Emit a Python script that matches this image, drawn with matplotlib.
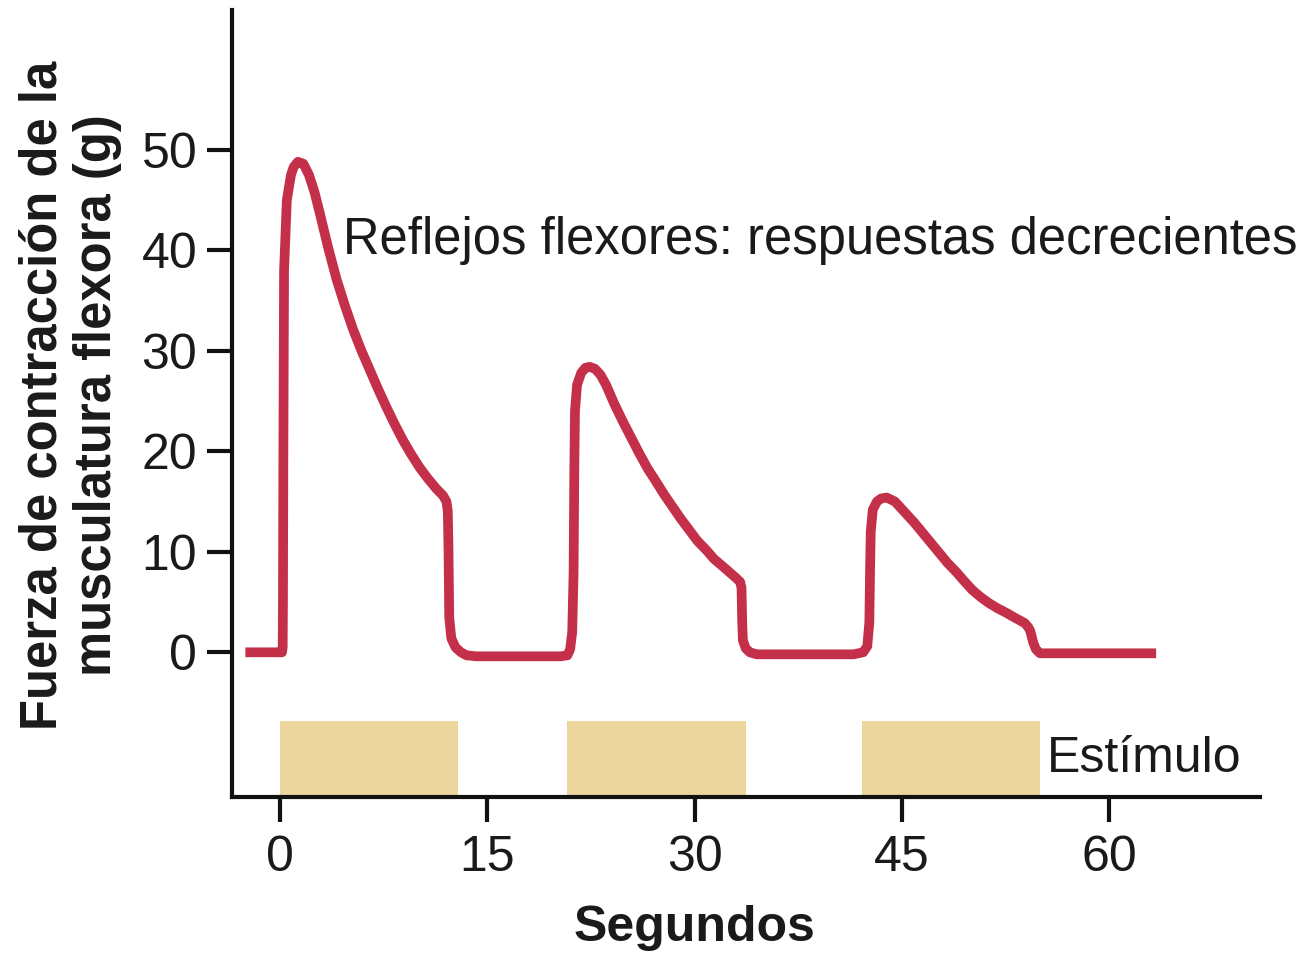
import matplotlib
matplotlib.use("Agg")
import matplotlib.pyplot as plt
from matplotlib.patches import Rectangle

# --- data ---
time_s = [-2.5, 0.15, 0.2, 0.22, 0.25, 0.3, 0.5, 0.8, 1.0, 1.3, 1.7, 2.1, 2.5, 2.9, 3.5, 4.1, 4.7, 5.3, 5.9,
          6.5, 7.1, 7.7, 8.3, 8.9, 9.5, 10.1, 10.7, 11.3, 11.8, 12.05, 12.15, 12.2, 12.25, 12.4, 12.7,
          13.1, 13.5, 14.2, 16.0, 19.0,
          20.3, 20.8, 21.0, 21.15, 21.25, 21.3, 21.35, 21.5, 21.8, 22.1, 22.4, 22.8, 23.2, 23.6, 24.2,
          24.8, 25.4, 26.0, 26.6, 27.3, 27.8, 28.4, 29.0, 29.6, 30.2, 30.9, 31.4, 32.0, 32.5, 33.0, 33.3,
          33.4, 33.45, 33.5, 33.7, 34.0, 34.5, 35.5, 38.0,
          41.5, 42.2, 42.5, 42.65, 42.7, 42.75, 42.9, 43.2, 43.5, 43.9, 44.5, 45.3, 45.9, 46.5, 47.1, 47.7,
          48.3, 49.0, 49.5, 50.1, 50.7, 51.3, 51.9, 52.6, 53.1, 53.5, 53.9, 54.15, 54.3, 54.5, 54.7, 55.0,
          56.0, 63.4]
force_g = [0.0, 0.0, 0.5, 5.0, 20.0, 38.0, 45.0, 47.5, 48.3, 48.8, 48.6, 47.5, 45.8, 43.6, 40.2, 37.1, 34.5, 32.1, 30.0,
           28.1, 26.2, 24.4, 22.7, 21.1, 19.7, 18.4, 17.3, 16.3, 15.6, 15.0, 14.0, 10.0, 3.5, 1.4, 0.5,
           0.0, -0.3, -0.4, -0.4, -0.4,
           -0.4, -0.3, 0.3, 2.0, 8.0, 18.0, 24.0, 26.6, 27.8, 28.3, 28.4, 28.2, 27.6, 26.6, 24.7,
           23.0, 21.4, 19.8, 18.3, 16.8, 15.7, 14.5, 13.3, 12.2, 11.1, 10.1, 9.3, 8.6, 8.0, 7.4, 7.0,
           6.4, 3.0, 1.2, 0.4, 0.0, -0.2, -0.2, -0.2,
           -0.2, 0.0, 0.6, 3.0, 8.0, 12.0, 14.2, 15.0, 15.3, 15.4, 15.0, 13.8, 12.9, 11.9, 10.9, 9.9,
           8.9, 7.9, 7.1, 6.2, 5.5, 4.9, 4.4, 3.9, 3.5, 3.2, 2.9, 2.5, 2.1, 1.0, 0.3, -0.1,
           -0.1, -0.1]

stim_start = [0.0, 20.8, 42.1]
stim_end = [12.9, 33.7, 55.0]

x_ticks = [0, 15, 30, 45, 60]
y_ticks = [0, 10, 20, 30, 40, 50]

ylabel = "Fuerza de contracción de la\nmusculatura flexora (g)"
xlabel = "Segundos"
curve_label = "Reflejos flexores: respuestas decrecientes"
stim_label = "Estímulo"

plt.rcParams['font.family'] = ['Liberation Sans', 'DejaVu Sans']

fig = plt.figure(figsize=(13.15, 9.55), dpi=100)
ax = fig.add_axes([0.1764, 0.1654, 0.958 - 0.1764, 0.9895 - 0.1654])

ax.set_xlim(-3.47, 70.9)
ax.set_ylim(-14.4, 63.9)

for s, e in zip(stim_start, stim_end):
    ax.add_patch(Rectangle((s, -14.4), e - s, 14.4 - 6.8, facecolor="#EDD69E",
                           edgecolor="none", zorder=1))

ax.plot(time_s, force_g, color="#C4304A", linewidth=7, solid_joinstyle="round",
        solid_capstyle="butt", zorder=3)

ax.text(4.55, 41.0, curve_label, fontsize=36.5, va="center", ha="left", color="#1a1a1a")
ax.text(55.5, -10.6, stim_label, fontsize=36, va="center", ha="left", color="#1a1a1a")

for side in ["top", "right"]:
    ax.spines[side].set_visible(False)
for side in ["left", "bottom"]:
    ax.spines[side].set_linewidth(3)
    ax.spines[side].set_color("#111111")

ax.set_xticks(x_ticks)
ax.set_yticks(y_ticks)
ax.tick_params(axis="both", direction="out", length=18, width=3, color="#111111",
               labelsize=36, labelcolor="#1a1a1a")
ax.tick_params(axis="y", pad=7)
ax.tick_params(axis="x", pad=9)

fig.text(694 / 1315, 0.028, xlabel, fontsize=36, fontweight="bold", ha="center", va="center",
         color="#1a1a1a")
fig.text(70 / 1315, 0.5864, ylabel, fontsize=36.5, fontweight="bold", ha="center", va="center",
         rotation=90, linespacing=1.15, color="#1a1a1a", multialignment="center")

fig.savefig("out.png", dpi=100, facecolor="white")
